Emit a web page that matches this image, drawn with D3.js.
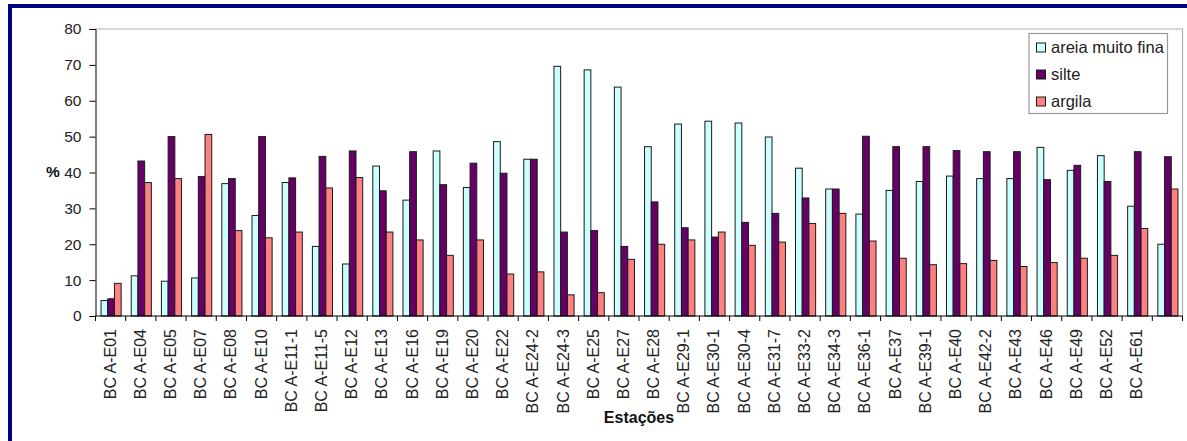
<!DOCTYPE html>
<html>
<head>
<meta charset="utf-8">
<script src="https://cdn.jsdelivr.net/npm/d3@7"></script>
<style>
  html, body { margin: 0; padding: 0; background: #fff; }
  svg { display: block; font-family: "Liberation Sans", Arial, sans-serif; }
</style>
</head>
<body>
<svg id="chart" width="1187" height="441"></svg>
<script>
// Stations (the last group carries no label)
const stations = ["BC A-E01","BC A-E04","BC A-E05","BC A-E07","BC A-E08","BC A-E10","BC A-E11-1","BC A-E11-5",
  "BC A-E12","BC A-E13","BC A-E16","BC A-E19","BC A-E20","BC A-E22","BC A-E24-2","BC A-E24-3","BC A-E25",
  "BC A-E27","BC A-E28","BC A-E29-1","BC A-E30-1","BC A-E30-4","BC A-E31-7","BC A-E33-2","BC A-E34-3",
  "BC A-E36-1","BC A-E37","BC A-E39-1","BC A-E40","BC A-E42-2","BC A-E43","BC A-E46","BC A-E49","BC A-E52",
  "BC A-E61",""];

const seriesNames = ["areia muito fina", "silte", "argila"];

const areiaMuitoFina = [4.3,11.2,9.7,10.6,36.9,28.0,37.2,19.4,14.5,41.8,32.3,46.0,35.8,48.6,43.7,69.6,68.6,
  63.8,47.2,53.5,54.3,53.8,49.9,41.2,35.4,28.4,35.0,37.5,39.0,38.3,38.3,47.0,40.6,44.7,30.6,20.0];
const silte = [4.8,43.2,50.0,38.9,38.3,50.0,38.5,44.5,46.0,34.9,45.8,36.6,42.6,39.8,43.7,23.4,23.8,
  19.4,31.8,24.6,22.0,26.1,28.6,32.9,35.4,50.1,47.2,47.2,46.1,45.8,45.8,38.0,42.0,37.5,45.8,44.4];
const argila = [9.1,37.2,38.3,50.6,23.8,21.8,23.4,35.7,38.6,23.4,21.2,16.9,21.2,11.7,12.3,5.9,6.5,
  15.8,20.0,21.2,23.4,19.7,20.6,25.8,28.6,20.9,16.1,14.3,14.6,15.5,13.8,14.9,16.1,16.9,24.4,35.4];

const yTicks = [0,10,20,30,40,50,60,70,80];
const colors = ["#CCFFFF", "#660066", "#FF8080"];

const seriesValues = [areiaMuitoFina, silte, argila];

const svg = d3.select("#chart");

// outer navy frame (top and left edges visible)
svg.append("rect").attr("x", 8).attr("y", 4).attr("width", 1187 - 8).attr("height", 4).attr("fill", "#000080");
svg.append("rect").attr("x", 8).attr("y", 4).attr("width", 4).attr("height", 441 - 4).attr("fill", "#000080");

const plot = { left: 95.5, right: 1182.5, top: 29, bottom: 316 };

const x = d3.scaleBand()
  .domain(d3.range(stations.length))
  .range([plot.left, plot.right])
  .paddingInner(0).paddingOuter(0);

// gap width of 150% between groups -> bar = band / 4.5
const barW = x.bandwidth() / 4.5;
const xSub = d3.scaleBand()
  .domain(d3.range(seriesNames.length))
  .range([barW * 0.75, barW * 3.75]);

const y = d3.scaleLinear().domain([0, 80]).range([plot.bottom, plot.top]);

// plot area border: top and right sides in gray
svg.append("path")
  .attr("d", `M${plot.left},${plot.top}H${plot.right}V${plot.bottom}`)
  .attr("fill", "none").attr("stroke", "#b0b0b0").attr("stroke-width", 1.2);

// bars
const groups = svg.append("g").selectAll("g")
  .data(stations.map((s, i) => i))
  .join("g")
  .attr("transform", i => `translate(${x(i)},0)`);

groups.selectAll("rect")
  .data(i => seriesValues.map((vals, k) => ({ k, v: vals[i] })))
  .join("rect")
  .attr("x", d => xSub(d.k) + 0.5)
  .attr("y", d => y(d.v))
  .attr("width", xSub.bandwidth())
  .attr("height", d => y(0) - y(d.v))
  .attr("fill", d => colors[d.k])
  .attr("stroke", "#1a1a1a")
  .attr("stroke-width", 1);

// y axis
const yAxis = d3.axisLeft(y).tickValues(yTicks).tickSize(6).tickPadding(8);
const gy = svg.append("g").attr("transform", `translate(${plot.left},0)`).call(yAxis);
gy.select(".domain").attr("stroke", "#000");
gy.selectAll(".tick line").attr("stroke", "#000");
gy.selectAll(".tick text").attr("font-size", 15.5).attr("fill", "#222")
  .attr("font-family", "'Liberation Sans', Arial, sans-serif");

// x axis: ticks at category boundaries
svg.append("line")
  .attr("x1", plot.left).attr("x2", plot.right)
  .attr("y1", plot.bottom).attr("y2", plot.bottom)
  .attr("stroke", "#000");
svg.append("g").selectAll("line")
  .data(d3.range(stations.length + 1))
  .join("line")
  .attr("x1", i => i < stations.length ? x(i) : plot.right)
  .attr("x2", i => i < stations.length ? x(i) : plot.right)
  .attr("y1", plot.bottom).attr("y2", plot.bottom + 5)
  .attr("stroke", "#000");

// rotated station labels
svg.append("g").selectAll("text")
  .data(stations)
  .join("text")
  .attr("transform", (d, i) => `translate(${x(i) + x.bandwidth() / 2 + 5},${plot.bottom + 13}) rotate(-90)`)
  .attr("text-anchor", "end")
  .attr("font-size", 16)
  .attr("fill", "#222")
  .text(d => d);

// axis titles
svg.append("text")
  .attr("x", 46).attr("y", 177)
  .attr("font-size", 15.5).attr("font-weight", "bold").attr("fill", "#111")
  .text("%");

svg.append("text")
  .attr("x", (plot.left + plot.right) / 2).attr("y", 423)
  .attr("text-anchor", "middle")
  .attr("font-size", 16).attr("font-weight", "bold").attr("fill", "#111")
  .text("Estações");

// legend
const legend = svg.append("g");
legend.append("rect")
  .attr("x", 1029).attr("y", 33.5).attr("width", 138.5).attr("height", 80)
  .attr("fill", "#fff").attr("stroke", "#999").attr("stroke-width", 1.2);
const items = legend.selectAll("g.item")
  .data(seriesNames)
  .join("g").attr("class", "item")
  .attr("transform", (d, i) => `translate(1036,${47.5 + i * 27})`);
items.append("rect")
  .attr("x", 0.5).attr("y", -4.5).attr("width", 9).attr("height", 9)
  .attr("fill", (d, i) => colors[i]).attr("stroke", "#1a1a1a");
items.append("text")
  .attr("x", 15).attr("y", 0).attr("dy", "0.36em")
  .attr("font-size", 16.5).attr("fill", "#222")
  .text(d => d);
</script>
</body>
</html>
